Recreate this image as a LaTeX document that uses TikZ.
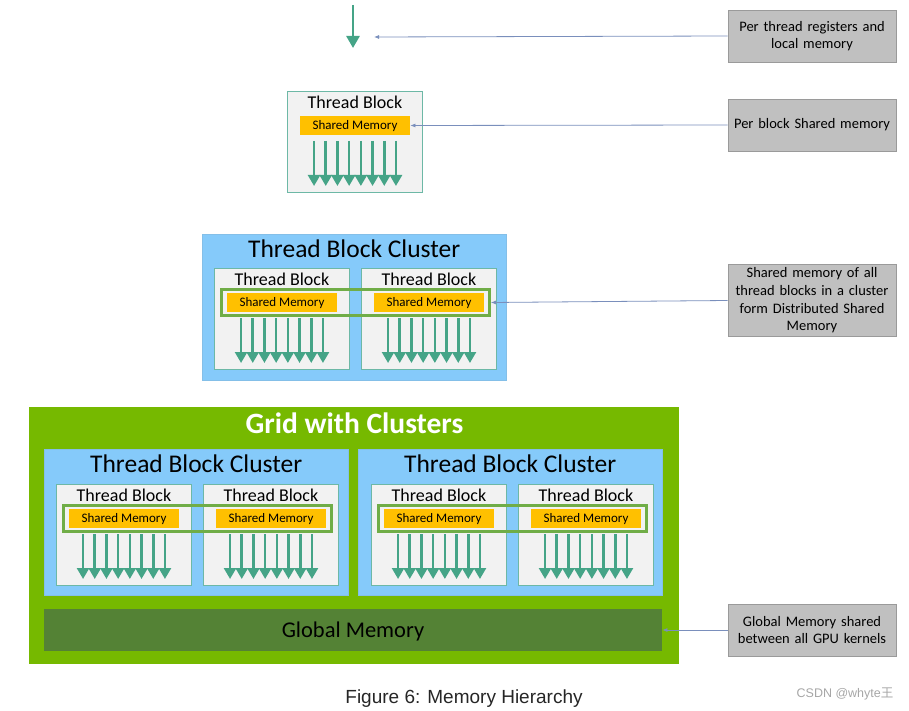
\documentclass[tikz,border=0pt]{standalone}
\usepackage{fontspec}
\setmainfont{Carlito}
\newfontfamily\capfont{Liberation Sans}
\newfontfamily\cjkfont{Noto Sans CJK SC}
\usetikzlibrary{arrows.meta, positioning, calc, fit}
\usepackage{xcolor}

\definecolor{tbfill}{HTML}{F2F2F2}
\definecolor{tbline}{HTML}{6DB8A6}
\definecolor{thrgreen}{HTML}{45A487}
\definecolor{smorange}{HTML}{FFC000}
\definecolor{clblue}{HTML}{85CAFA}
\definecolor{dsmgreen}{HTML}{70AD47}
\definecolor{gridgreen}{HTML}{76B900}
\definecolor{gmemgreen}{HTML}{548235}
\definecolor{notegray}{HTML}{C0C0C0}
\definecolor{ptrblue}{HTML}{7A8FBC}

\begin{document}
\begin{tikzpicture}[x=1pt, y=-1pt, thick, >=stealth]

		\useasboundingbox (0,0) rectangle (909,711);

		% Define block styles
		\tikzstyle{block} = [rectangle, draw=tbline, fill=tbfill, line width=1pt, minimum width=135pt, minimum height=101pt, anchor=north west, inner sep=0pt]
		\tikzstyle{tbtitle} = [font=\fontsize{18}{21}\selectfont, inner sep=0pt]
		\tikzstyle{shmem} = [rectangle, fill=smorange, minimum width=110pt, minimum height=19pt, inner sep=0pt, text depth=2pt, font=\fontsize{13}{15}\selectfont]
		\tikzstyle{cluster} = [rectangle, draw=clblue!85!gray, fill=clblue, line width=0.5pt, minimum width=304pt, minimum height=146pt, anchor=north west, inner sep=0pt]
		\tikzstyle{cltitle} = [font=\fontsize{25.5}{28}\selectfont, inner sep=0pt]
		\tikzstyle{dsm} = [rectangle, draw=dsmgreen, line width=3pt, inner xsep=5pt, inner ysep=3.5pt]
		\tikzstyle{note} = [rectangle, draw=notegray!80!black, fill=notegray, line width=0.6pt, minimum width=168pt, minimum height=52pt, inner xsep=1.5pt, text width=164pt, align=center, font=\fontsize{14.5}{17.7}\selectfont]
		\tikzstyle{thread} = [-{Triangle[width=12pt, length=11pt]}, draw=thrgreen, line width=2.6pt]
		\tikzstyle{pointer} = [-{Latex[length=5pt, width=4pt]}, draw=ptrblue, line width=0.8pt]

		% Grid and clusters
		\node[rectangle, fill=gridgreen, minimum width=650pt, minimum height=257pt, anchor=north west, inner sep=0pt] (grid) at (29,407) {};
		\node[font=\bfseries\fontsize{29.5}{32}\selectfont, text=white, inner sep=0pt] (gridtitle) at ($(grid.north)+(0,16)$) {Grid with Clusters};
		\foreach \cname/\x/\y in {c0/202/234, g1/44/449, g2/358/449} {
			\node[cluster] (\cname) at (\x,\y) {};
			\node[cltitle] (\cname-title) at ($(\cname.north)+(0,15)$) {Thread Block Cluster};
		}

		% Thread blocks
		\foreach \name/\x/\y in {tb/287/91, ca/214/268, cb/361/268, ga/56/484, gb/203/484, gc/371/484, gd/518/484} {
			\node[block] (\name) at (\x,\y) {};
			\node[tbtitle] (\name-title) at ($(\name.north)+(0,11)$) {Thread Block};
			\node[shmem] (\name-sm) at ($(\name.north)+(0,34.5)$) {Shared Memory};
			\foreach \i in {1,...,8}
				\draw[thread] ($(\name.north)+(\i*11.7-52.65,50)$) -- ++(0,45);
		}

		% Distributed shared memory
		\node[dsm, fit=(ca-sm)(cb-sm)] (cdsm) {};
		\node[dsm, fit=(ga-sm)(gb-sm)] (g1dsm) {};
		\node[dsm, fit=(gc-sm)(gd-sm)] (g2dsm) {};

		\node[rectangle, fill=gmemgreen, minimum width=618pt, minimum height=42pt, text depth=1pt, font=\fontsize{22.5}{25}\selectfont] (gmem) at (353,630) {Global Memory};

		% Single thread
		\coordinate (thrtop) at (353,5);
		\coordinate (thrbot) at (353,48);
		\draw[thread, -{Triangle[width=13pt, length=12pt]}] (thrtop) -- (thrbot);

		% Labels
		\node[note] (regnote) at (812,36) {Per thread registers and\\local memory};
		\node[note] (blknote) at (812,125) {Per block Shared memory};
		\node[note, minimum height=71pt] (dsmnote) at (812,300.5) {Shared memory of all\\thread blocks in a cluster\\form Distributed Shared\\Memory};
		\node[note] (gmemnote) at (812,630) {Global Memory shared\\between all GPU kernels};

		% Arrows
		\coordinate (regs) at (374,37);
		\draw[pointer] (regnote.west) -- (regs);
		\draw[pointer] (blknote.west) -- (tb-sm.east);
		\draw[pointer] (dsmnote.west) -- (cdsm.east);
		\draw[pointer] (gmemnote.west) -- (gmem.east);

		% Caption
		\node[font=\capfont\fontsize{19}{22}\selectfont, text=black!85] (caption) at (464,699) {Figure 6: Memory Hierarchy};
		\node[font=\capfont\fontsize{12.5}{15}\selectfont, text=gray!70] (mark) at (845,694) {CSDN @whyte{\cjkfont 王}};

	\end{tikzpicture}
\end{document}
